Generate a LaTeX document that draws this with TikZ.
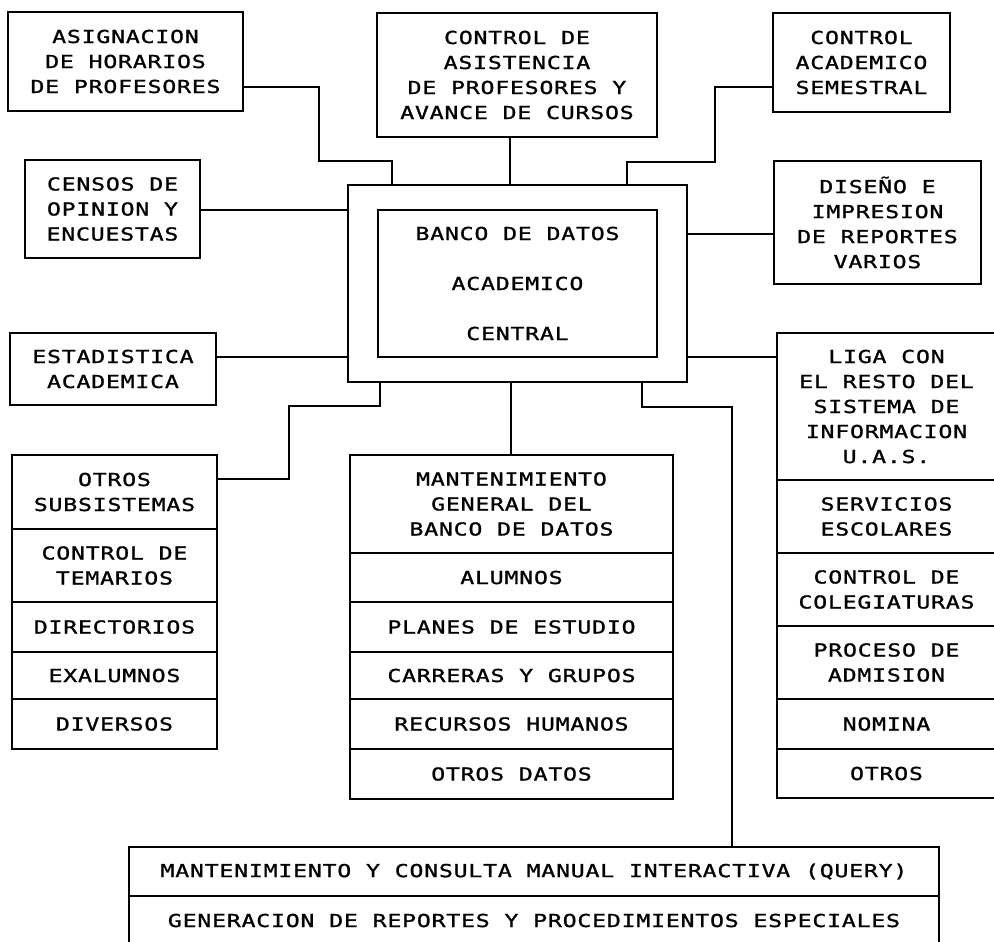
\documentclass[tikz,border=0pt]{standalone}
\usepackage{fontspec}
\usetikzlibrary{calc}
\newfontfamily\plotfont[FakeStretch=1.3,LetterSpace=4.2,FakeBold=1.2]{DejaVu Sans Mono}
\begin{document}
\begin{tikzpicture}[x=0.75pt,y=-0.75pt,
  lbl/.style={font=\plotfont\fontsize{13.4pt}{18.75pt}\selectfont},
  box/.style 2 args={draw, line width=1.5pt, inner sep=0pt, align=center,
    minimum width=#1*0.75pt, minimum height=#2*0.75pt, lbl},
  wire/.style={line width=1.5pt}]
\useasboundingbox (0,0) rectangle (994,941);
\clip (0,0) rectangle (994,941);

% satellite boxes
\node[box={235}{99}]  (asig)   at (125.5,61.5) {ASIGNACION\\DE HORARIOS\\DE PROFESORES};
\node[box={280}{124}] (asist)  at (517,75)     {CONTROL DE\\ASISTENCIA\\DE PROFESORES Y\\AVANCE DE CURSOS};
\node[box={177}{99}]  (acad)   at (861.5,62.5) {CONTROL\\ACADEMICO\\SEMESTRAL};
\node[box={175}{98}]  (censos) at (112.5,209)  {CENSOS DE\\OPINION Y\\ENCUESTAS};
\node[box={207}{123}] (diseno) at (877.5,222.5) {DISEÑO E\\IMPRESION\\DE REPORTES\\VARIOS};
\node[box={206}{72}]  (estad)  at (113,369)    {ESTADISTICA\\ACADEMICA};

% central data bank
\node[box={339}{197}] (outer) at (517.5,283.5) {};
\node[box={279}{147}, font=\plotfont\fontsize{13.4pt}{37.5pt}\selectfont] (inner) at (517.5,283.5)
  {BANCO DE DATOS\\ACADEMICO\\CENTRAL};

% left stack
\node[box={205}{74}] (ls1) at (114.5,492)   {OTROS\\SUBSISTEMAS};
\node[box={205}{73}] (ls2) at (114.5,565.5) {CONTROL DE\\TEMARIOS};
\node[box={205}{50}] (ls3) at (114.5,627)   {DIRECTORIOS};
\node[box={205}{47}] (ls4) at (114.5,675.5) {EXALUMNOS};
\node[box={205}{50}] (ls5) at (114.5,724)   {DIVERSOS};

% middle stack
\node[box={323}{98}] (ms1) at (511.5,504)   {MANTENIMIENTO\\GENERAL DEL\\BANCO DE DATOS};
\node[box={323}{49}] (ms2) at (511.5,577.5) {ALUMNOS};
\node[box={323}{50}] (ms3) at (511.5,627)   {PLANES DE ESTUDIO};
\node[box={323}{47}] (ms4) at (511.5,675.5) {CARRERAS Y GRUPOS};
\node[box={323}{50}] (ms5) at (511.5,724)   {RECURSOS HUMANOS};
\node[box={323}{50}] (ms6) at (511.5,774)   {OTROS DATOS};

% right stack
\node[box={219}{147}] (rs1) at (886.5,406.5) {LIGA CON\\EL RESTO DEL\\SISTEMA DE\\INFORMACION\\U.A.S.};
\node[box={219}{73}]  (rs2) at (886.5,516.5) {SERVICIOS\\ESCOLARES};
\node[box={219}{73}]  (rs3) at (886.5,589.5) {CONTROL DE\\COLEGIATURAS};
\node[box={219}{73}]  (rs4) at (886.5,662.5) {PROCESO DE\\ADMISION};
\node[box={219}{50}]  (rs5) at (886.5,724)   {NOMINA};
\node[box={219}{49}]  (rs6) at (886.5,773.5) {OTROS};

% query block
\node[box={810}{49}] (q1) at (534,871.5) {MANTENIMIENTO Y CONSULTA MANUAL INTERACTIVA (QUERY)};
\node[box={810}{49}] (q2) at (534,920.5) {GENERACION DE REPORTES Y PROCEDIMIENTOS ESPECIALES};

% connectors
\draw[wire] (asig.east |- 0,87) -| (319,161) -| (outer.north -| 392,0);
\draw[wire] (asist.south -| 510,0) -- (outer.north -| 510,0);
\draw[wire] (acad.west |- 0,87) -| (715,162) -| (outer.north -| 627,0);
\draw[wire] (censos.east |- 0,210) -- (outer.west |- 0,210);
\draw[wire] (outer.east |- 0,234) -- (diseno.west |- 0,234);
\draw[wire] (estad.east |- 0,357) -- (outer.west |- 0,357);
\draw[wire] (outer.east |- 0,357) -- (rs1.west |- 0,357);
\draw[wire] (outer.south -| 380,0) |- (289,406) |- (ls1.east |- 0,479);
\draw[wire] (outer.south -| 511,0) -- (ms1.north -| 511,0);
\draw[wire] (outer.south -| 642,0) |- (732,407) -- (q1.north -| 732,0);
\end{tikzpicture}
\end{document}
